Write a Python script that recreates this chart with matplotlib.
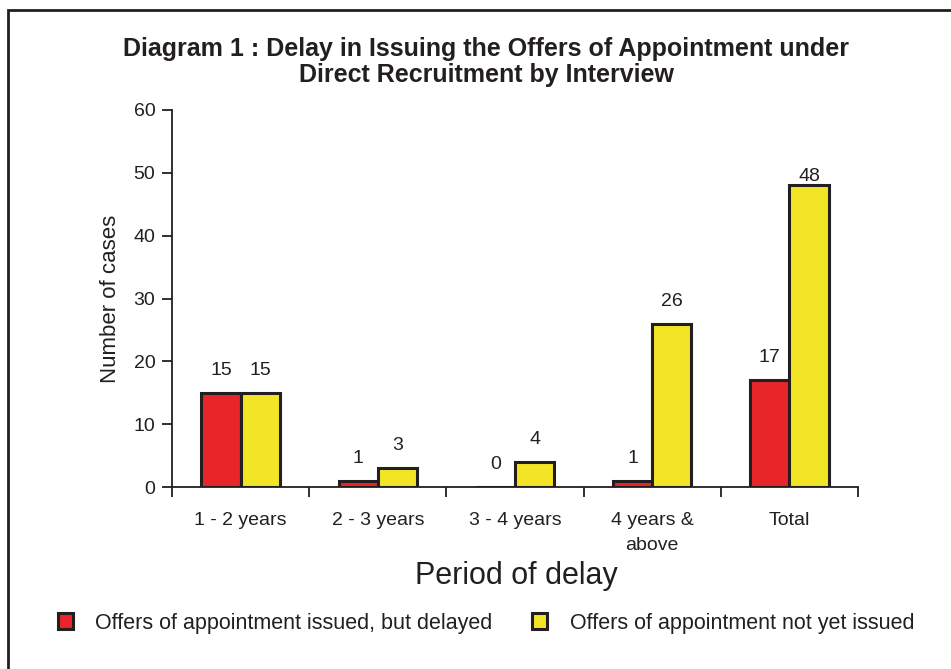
import numpy as np
import matplotlib.pyplot as plt
from matplotlib.patches import Rectangle

plt.rcParams['font.family'] = ['Liberation Sans', 'DejaVu Sans']

categories = ["1 - 2 years", "2 - 3 years", "3 - 4 years", "4 years &\nabove", "Total"]
delayed = [15, 1, 0, 1, 17]
not_issued = [15, 3, 4, 26, 48]
legend_labels = ["Offers of appointment issued, but delayed",
                 "Offers of appointment not yet issued"]

RED = "#e8262a"
YELLOW = "#f2e526"
EDGE = "#231f20"

fig = plt.figure(figsize=(9.51, 6.69), dpi=100)
# outer frame
fig.patches.append(Rectangle((8 / 951, -0.1), 1.2, 1 - 10 / 669 + 0.1,
                             transform=fig.transFigure, fill=False,
                             edgecolor=EDGE, lw=2.0))

ax = fig.add_axes([172 / 951, 1 - 487 / 669, 686 / 951, 377 / 669])

x = np.arange(len(categories)) + 0.5
w = 0.285
b1 = ax.bar(x - w / 2, delayed, w, color=RED, edgecolor=EDGE, lw=2.2,
            label=legend_labels[0])
b2 = ax.bar(x + w / 2, not_issued, w, color=YELLOW, edgecolor=EDGE, lw=2.2,
            label=legend_labels[1])

# value labels sit ~3.5 units above the bar, squeezed under the top for the tallest
for bars, vals in ((b1, delayed), (b2, not_issued)):
    for r, v in zip(bars, vals):
        ax.text(r.get_x() + r.get_width() / 2, min(v + 3.6, 49.4), str(v),
                ha="center", va="center", fontsize=14, color=EDGE)

ax.set_xlim(0, len(categories))
ax.set_ylim(0, 60)
ax.set_yticks(range(0, 61, 10))
ax.set_xticks(np.arange(len(categories) + 1))
ax.set_xticklabels([])
ax.set_xticks(x, minor=True)
ax.set_xticklabels(categories, minor=True, fontsize=14, color=EDGE,
                   linespacing=1.6)
ax.tick_params(axis="x", which="minor", length=0, pad=18)
ax.tick_params(axis="x", which="major", length=7, width=1.3, color=EDGE)
ax.tick_params(axis="y", length=7, width=1.3, color=EDGE, labelsize=14,
               labelcolor=EDGE, pad=5)
for s in ("top", "right"):
    ax.spines[s].set_visible(False)
for s in ("left", "bottom"):
    ax.spines[s].set_linewidth(1.3)
    ax.spines[s].set_color(EDGE)

ax.set_ylabel("Number of cases", fontsize=16, color=EDGE, labelpad=9)
fig.text(516 / 951, 1 - 576 / 669, "Period of delay", fontsize=22,
         ha="center", va="center", color=EDGE)
fig.text(486 / 951, 1 - 62 / 669,
         "Diagram 1 : Delay in Issuing the Offers of Appointment under\n"
         "Direct Recruitment by Interview",
         fontsize=18, fontweight="bold", ha="center", va="center",
         color=EDGE, linespacing=1.12)

fig.legend(handles=[b1, b2], labels=legend_labels, loc="center",
           bbox_to_anchor=(486 / 951, 1 - 623 / 669), ncol=2, frameon=False,
           fontsize=15.5, handlelength=0.7, handleheight=0.7,
           columnspacing=1.85, handletextpad=1.05, labelcolor=EDGE)

fig.savefig("out.png", dpi=100)
